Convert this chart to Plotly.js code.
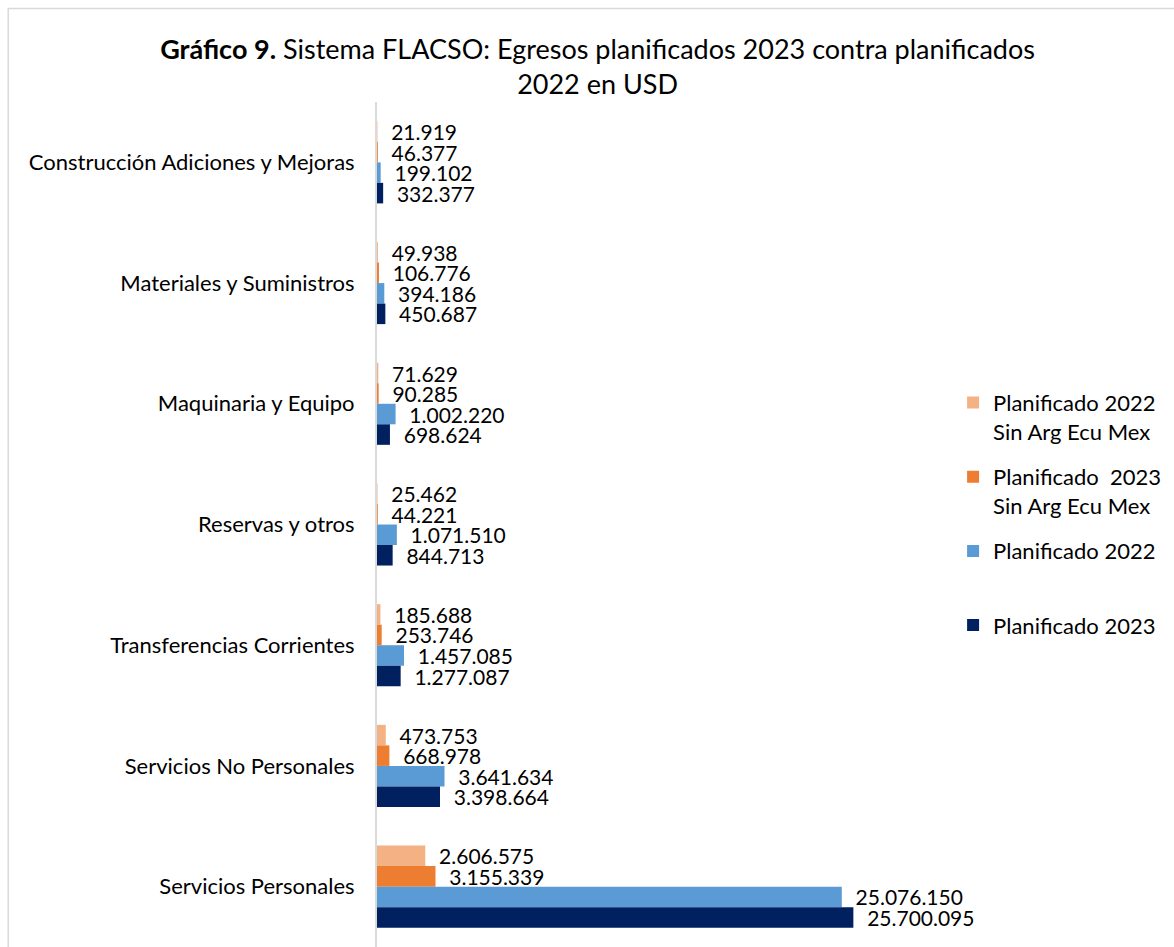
<!DOCTYPE html>
<html>
<head>
<meta charset="utf-8">
<script src="https://cdn.plot.ly/plotly-3.0.1.min.js"></script>
<style>
  html, body { margin: 0; padding: 0; background: #ffffff; }
  #chart { position: absolute; left: 0; top: 0; width: 1174px; height: 947px; }
</style>
</head>
<body>
<div id="chart"></div>
<script>
const categories = [
  "Construcción Adiciones y Mejoras",
  "Materiales y Suministros",
  "Maquinaria y Equipo",
  "Reservas y otros",
  "Transferencias Corrientes",
  "Servicios No Personales",
  "Servicios Personales"
];
const seriesNames = [
  "Planificado 2022<br>Sin Arg Ecu Mex",
  "Planificado  2023<br>Sin Arg Ecu Mex",
  "Planificado 2022<br> ",
  "Planificado 2023"
];
const plan2022Sin = [21919, 49938, 71629, 25462, 185688, 473753, 2606575];
const plan2023Sin = [46377, 106776, 90285, 44221, 253746, 668978, 3155339];
const plan2022 = [199102, 394186, 1002220, 1071510, 1457085, 3641634, 25076150];
const plan2023 = [332377, 450687, 698624, 844713, 1277087, 3398664, 25700095];
const colors = ["#F4B183", "#ED7D31", "#5B9BD5", "#002060"];

const FONT = "Lato, 'Open Sans', sans-serif";

const seriesValues = [plan2022Sin, plan2023Sin, plan2022, plan2023];
const traces = seriesValues.map((vals, i) => ({
  type: "bar",
  orientation: "h",
  name: seriesNames[i],
  legendgroup: "g" + i,
  y: categories,
  x: vals,
  marker: { color: colors[i] },
  texttemplate: "\u00a0\u00a0%{x:,.0f}",
  textposition: "outside",
  constraintext: "none",
  cliponaxis: false,
  textfont: { family: FONT, size: 21, color: "#000000" },
  hoverinfo: "x+name"
}));

const layout = {
  width: 1174,
  height: 947,
  separators: ",.",
  font: { family: FONT, size: 21, color: "#000000" },
  paper_bgcolor: "#ffffff",
  plot_bgcolor: "rgba(0,0,0,0)",
  margin: { l: 377, r: 278, t: 102, b: 0, pad: 0 },
  barmode: "group",
  bargap: 0.32,
  bargroupgap: 0,
  title: {
    text: "<b>Gráfico 9.</b> Sistema FLACSO: Egresos planificados 2023 contra planificados<br>2022 en USD",
    font: { family: FONT, size: 27, color: "#000000" },
    x: 0.509, xref: "container", xanchor: "center",
    y: 0.938, yref: "container", yanchor: "top"
  },
  xaxis: {
    range: [0, 28000000],
    visible: false,
    showgrid: false,
    zeroline: false
  },
  yaxis: {
    type: "category",
    autorange: "reversed",
    showline: true,
    linecolor: "#d9d9d9",
    linewidth: 2,
    ticks: "",
    showgrid: false,
    ticklabelstandoff: 16,
    tickfont: { family: FONT, size: 22, color: "#000000" }
  },
  legend: {
    x: 1.11, xanchor: "left",
    y: 0.669, yanchor: "top",
    valign: "top",
    traceorder: "grouped",
    tracegroupgap: 14,
    font: { family: FONT, size: 22, color: "#000000" },
    bgcolor: "rgba(0,0,0,0)"
  },
  shapes: [{
    type: "rect", xref: "paper", yref: "paper",
    x0: -0.7106, x1: 1.6, y0: -0.2, y1: 1.1107,
    line: { color: "#d9d9d9", width: 1.5 },
    fillcolor: "rgba(0,0,0,0)",
    layer: "below"
  }],
  showlegend: true
};

Plotly.newPlot("chart", traces, layout, { displayModeBar: false, staticPlot: true });
</script>
</body>
</html>
